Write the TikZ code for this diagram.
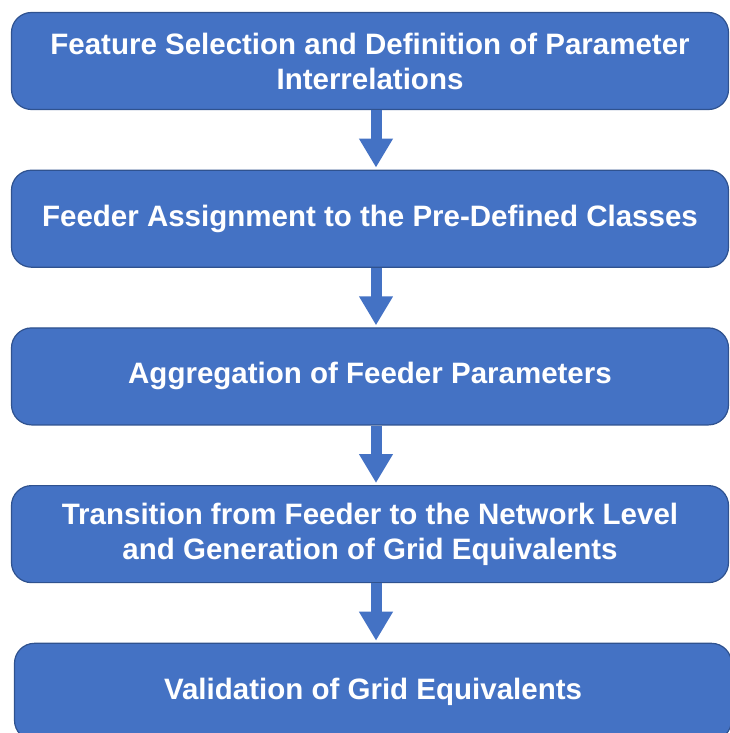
\documentclass[tikz,border=0pt]{standalone}
\usepackage{fontspec}
\setmainfont{Liberation Sans}
\usepackage{tikz}
\usetikzlibrary{positioning,arrows.meta}

\definecolor{stageblue}{HTML}{4472C4}
\definecolor{stageedge}{HTML}{2F528F}

\tikzset{
	stage/.style={draw=stageedge,line width=1.2pt,fill=stageblue,rounded corners=20pt,
		minimum width=717pt,minimum height=97pt,align=center,text=white,
		font=\fontsize{29.5}{35}\selectfont\bfseries},
	flow/.style={line width=11pt,draw=stageblue,
		-{Triangle[width=32pt,length=29pt,fill=stageblue]}}
}

\begin{document}
\begin{tikzpicture}
\useasboundingbox (0pt,0pt) rectangle (730pt,-733pt);
\node[stage] (features) at (370pt,-61pt){Feature Selection and Definition of Parameter\\Interrelations};
\node[stage] (assign)[below=59.5pt of features]{Feeder Assignment to the Pre-Defined Classes};
\node[stage] (aggregate)[below=59.5pt of assign]{Aggregation of Feeder Parameters};
\node[stage] (transition)[below=59.5pt of aggregate]{Transition from Feeder to the Network Level\\and Generation of Grid Equivalents};
\node[stage] (validate)[below=59.5pt of transition,xshift=3pt]{Validation of Grid Equivalents};
% draw the connections
\draw[flow] ([xshift=6pt]features.south)--([xshift=6pt,yshift=2pt]assign.north);
\draw[flow] ([xshift=6pt]assign.south)--([xshift=6pt,yshift=2pt]aggregate.north);
\draw[flow] ([xshift=6pt]aggregate.south)--([xshift=6pt,yshift=2pt]transition.north);
\draw[flow] ([xshift=6pt]transition.south)--([xshift=3pt,yshift=2pt]validate.north);
\end{tikzpicture}
\end{document}
